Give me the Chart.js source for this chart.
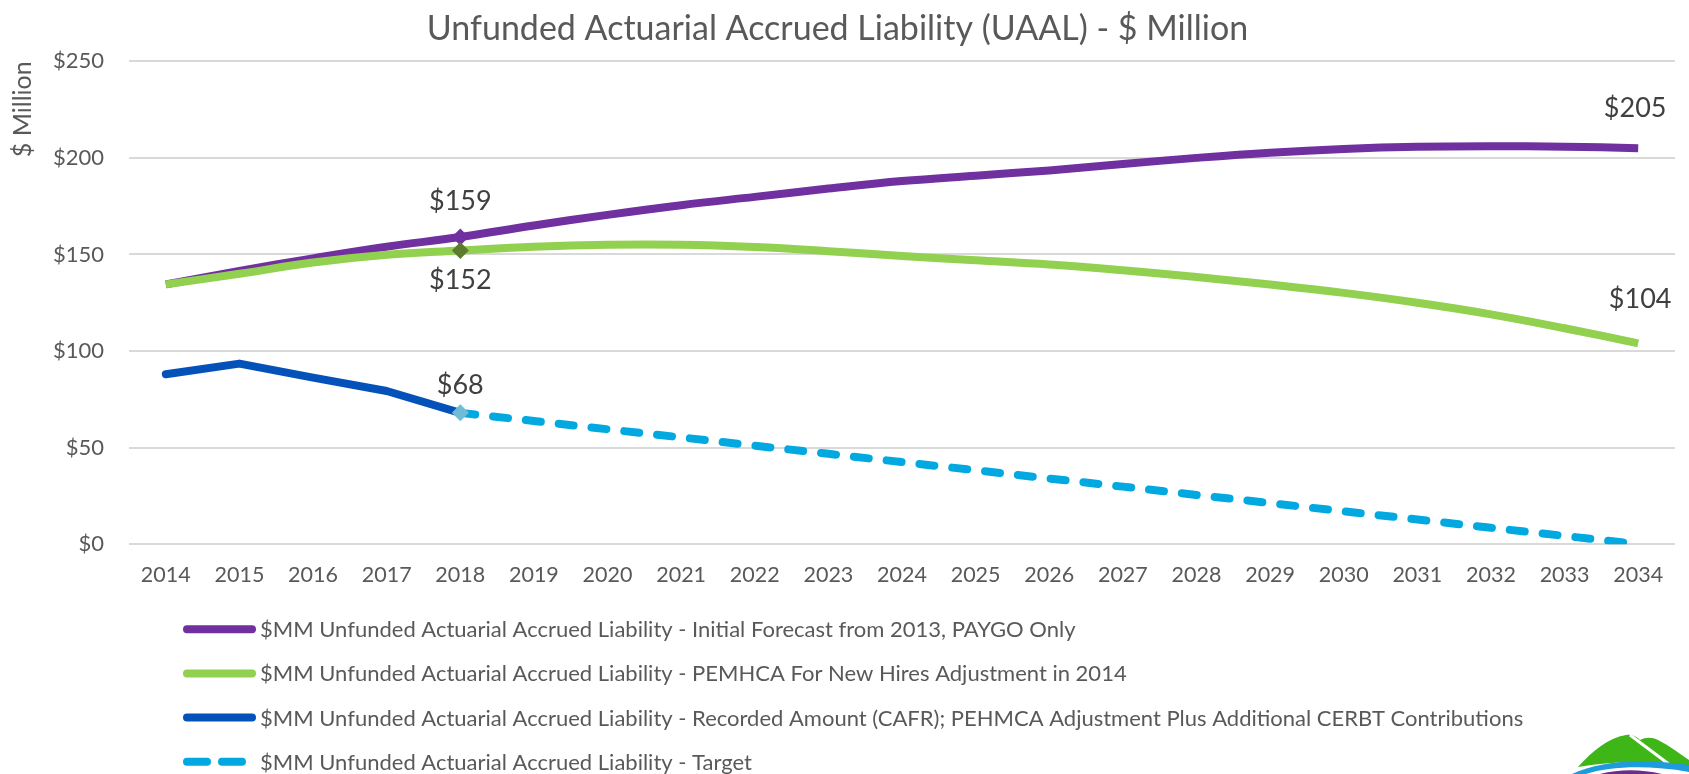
<!DOCTYPE html>
<html lang="en">
<head>
    <meta charset="UTF-8">
    <title>Unfunded Actuarial Accrued Liability (UAAL)</title>
    <style>
        html, body { margin: 0; padding: 0; background: #fff; overflow: hidden; }
        .chart_wrap { position: relative; width: 1689px; height: 774px; }
        .logo { position: absolute; left: 1570px; top: 725px; }
    </style>
</head>
<body>
    <div class="chart_wrap">
        <canvas id="uaal_chart" width="1689" height="774" aria-label="UAAL chart" role="img"></canvas>
        <svg class="logo" width="119" height="49" viewBox="0 0 119 49">
            <path d="M8,42 C22,26 38,13 56,10 C62,9 66,11 70,15 C76,12 82,12 88,15 C100,21 110,29 119,35 L119,42 C90,36 50,35 8,42 Z" fill="#3FB618"/>
            <path d="M60,10 L100,40" stroke="#fff" stroke-width="3"/>
            <path d="M2,49 C30,36 70,33 119,40 L119,47 C80,40 40,41 16,49 Z" fill="#1E9BDB"/>
            <path d="M30,49 C50,44 70,44 92,49 Z" fill="#6A2C91"/>
        </svg>
    </div>

    <script src="https://cdn.jsdelivr.net/npm/chart.js"></script>
    <script>
    const years = ['2014', '2015', '2016', '2017', '2018', '2019', '2020', '2021', '2022', '2023', '2024',
                   '2025', '2026', '2027', '2028', '2029', '2030', '2031', '2032', '2033', '2034'];

    // $ million
    const initialForecast = [134.5, 141.5, 148, 154, 159, 165, 170.5, 175.5, 179.8, 184.1, 188,
                             190.8, 193.5, 196.8, 200, 202.7, 204.6, 205.7, 206, 205.8, 205];
    const pemhcaAdjusted = [134.5, 140, 145.8, 149.8, 152, 154, 155, 155, 153.8, 151.7, 149.2,
                            147, 144.8, 141.8, 138.3, 134.4, 130.1, 125, 119, 111.8, 104];
    const recordedAmount = [88, 93.5, 86.2, 79.3, 68, null, null, null, null, null, null,
                            null, null, null, null, null, null, null, null, null, null];
    const targetAmount = [null, null, null, null, 68, 63.8, 59.5, 55.3, 51, 46.8, 42.5,
                          38.3, 34, 29.8, 25.5, 21.3, 17, 12.8, 8.5, 4.3, 0];

    const yTicks = [0, 50, 100, 150, 200, 250];

    const seriesNames = [
        '$MM Unfunded Actuarial Accrued Liability - Initial Forecast from 2013, PAYGO Only',
        '$MM Unfunded Actuarial Accrued Liability - PEMHCA For New Hires Adjustment in 2014',
        '$MM Unfunded Actuarial Accrued Liability - Recorded Amount (CAFR); PEHMCA Adjustment Plus Additional CERBT Contributions',
        '$MM Unfunded Actuarial Accrued Liability - Target'
    ];

    const markerIndex = years.indexOf('2018');
    const markerSizes = years.map((y, i) => i === markerIndex ? 8.5 : 0);

    // value labels: which series / point, and where the text sits
    const pointLabels = [
        { series: 0, index: 4, dx: 0, dy: -36 },
        { series: 1, index: 4, dx: 0, dy: 30 },
        { series: 3, index: 4, dx: 0, dy: -28 },
        { series: 0, index: 20, dx: -3, dy: -40 },
        { series: 1, index: 20, dx: 2, dy: -44 }
    ];

    const textGrey = '#595959';

    const valueLabelPlugin = {
        id: 'valueLabels',
        afterDatasetsDraw(chart) {
            const ctx = chart.ctx;
            ctx.save();
            ctx.font = '27px Lato';
            ctx.fillStyle = '#404040';
            ctx.textAlign = 'center';
            ctx.textBaseline = 'middle';
            pointLabels.forEach(l => {
                const pt = chart.getDatasetMeta(l.series).data[l.index];
                const v = chart.data.datasets[l.series].data[l.index];
                ctx.fillText('$' + Math.round(v), pt.x + l.dx, pt.y + l.dy);
            });
            ctx.restore();
        }
    };

    // legend stacked in one column under the axis, like the original
    const columnLegendPlugin = {
        id: 'columnLegend',
        afterDraw(chart) {
            const ctx = chart.ctx;
            const top = chart.chartArea.bottom;
            ctx.save();
            ctx.font = '22px Lato';
            ctx.textBaseline = 'middle';
            chart.data.datasets.forEach((ds, i) => {
                const y = top + 85 + i * 44.2;
                ctx.beginPath();
                ctx.lineWidth = 8;
                ctx.lineCap = 'round';
                ctx.strokeStyle = ds.borderColor;
                ctx.setLineDash(ds.borderDash ? [20, 15] : []);
                ctx.moveTo(187, y);
                ctx.lineTo(252, y);
                ctx.stroke();
                ctx.setLineDash([]);
                ctx.fillStyle = textGrey;
                ctx.fillText(ds.label, 260, y + 1);
            });
            ctx.restore();
        }
    };

    function buildChart() {
        const ctx = document.getElementById('uaal_chart').getContext('2d');
        new Chart(ctx, {
            type: 'line',
            data: {
                labels: years,
                datasets: [{
                    label: seriesNames[0],
                    data: initialForecast,
                    borderColor: '#7030A0',
                    backgroundColor: '#7030A0',
                    borderWidth: 8,
                    tension: 0.4,
                    pointStyle: 'rectRot',
                    pointRadius: markerSizes,
                    pointBorderWidth: 0,
                    order: 3
                }, {
                    label: seriesNames[1],
                    data: pemhcaAdjusted,
                    borderColor: '#92D050',
                    backgroundColor: '#5E7A2E',
                    borderWidth: 8,
                    tension: 0.4,
                    pointStyle: 'rectRot',
                    pointRadius: markerSizes,
                    pointBorderWidth: 0,
                    order: 1
                }, {
                    label: seriesNames[2],
                    data: recordedAmount,
                    borderColor: '#0451B9',
                    backgroundColor: '#0451B9',
                    borderWidth: 8,
                    borderJoinStyle: 'round',
                    borderCapStyle: 'round',
                    tension: 0,
                    pointRadius: 0,
                    order: 2
                }, {
                    label: seriesNames[3],
                    data: targetAmount,
                    borderColor: '#02A9E0',
                    backgroundColor: '#6FBCD6',
                    borderWidth: 8,
                    borderDash: [15, 18],
                    borderCapStyle: 'round',
                    tension: 0,
                    pointStyle: 'rectRot',
                    pointRadius: markerSizes,
                    pointBorderWidth: 0,
                    order: 0
                }]
            },
            options: {
                responsive: false,
                animation: false,
                spanGaps: false,
                layout: { padding: { left: 0, right: 14, top: 0, bottom: 168 } },
                plugins: {
                    legend: { display: false },
                    tooltip: { enabled: false },
                    title: {
                        display: true,
                        text: 'Unfunded Actuarial Accrued Liability (UAAL) - $ Million',
                        color: textGrey,
                        font: { family: 'Lato', size: 34, weight: 'normal' },
                        padding: { top: 9, bottom: 11.5 }
                    }
                },
                scales: {
                    x: {
                        offset: true,
                        grid: { display: false, drawTicks: false },
                        border: { display: false },
                        ticks: {
                            color: textGrey,
                            font: { family: 'Lato', size: 21.5 },
                            padding: 18,
                            maxRotation: 0,
                            autoSkip: false
                        }
                    },
                    y: {
                        min: yTicks[0],
                        max: yTicks[yTicks.length - 1],
                        afterBuildTicks: axis => { axis.ticks = yTicks.map(v => ({ value: v })); },
                        afterFit: axis => { axis.width = 129; },
                        grid: { color: '#D9D9D9', lineWidth: 2, drawTicks: false },
                        border: { display: false },
                        ticks: {
                            color: textGrey,
                            font: { family: 'Lato', size: 22 },
                            padding: 25,
                            callback: v => '$' + v
                        },
                        title: {
                            display: true,
                            text: '$ Million',
                            align: 'end',
                            color: textGrey,
                            font: { family: 'Lato', size: 25 },
                            padding: { top: 8, bottom: 0 }
                        }
                    }
                }
            },
            plugins: [valueLabelPlugin, columnLegendPlugin]
        });
    }

    document.addEventListener('DOMContentLoaded', () => {
        document.fonts.load('20px Lato').then(buildChart, buildChart);
    });
    </script>
</body>
</html>
